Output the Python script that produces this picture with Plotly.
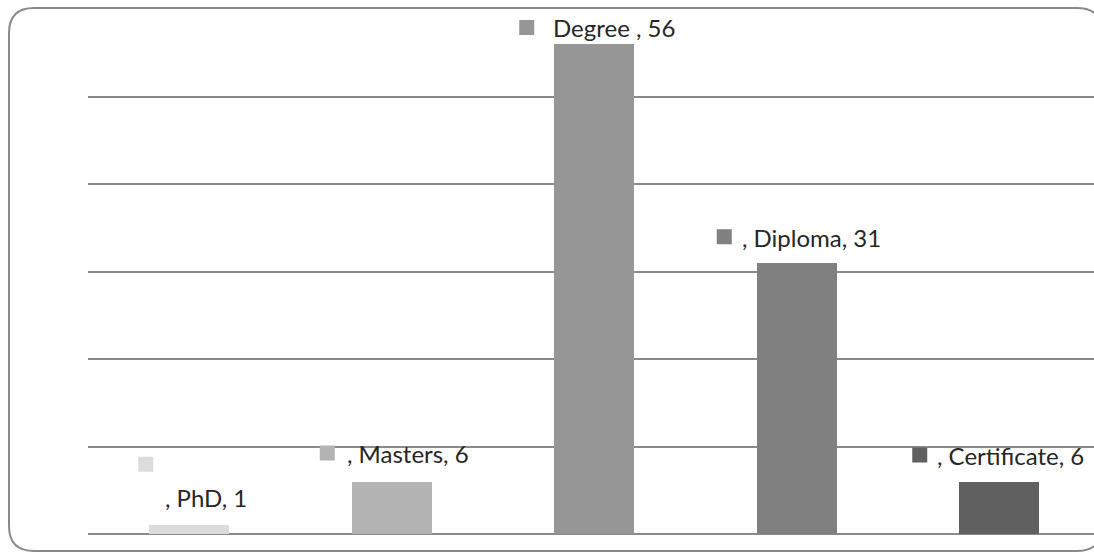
import plotly.graph_objects as go

# Highest qualification held by respondents
categories = ["PhD", "Masters", "Degree", "Diploma", "Certificate"]
counts = [1, 6, 56, 31, 6]
label_formats = [", {c}, {v}", ", {c}, {v}", "{c} , {v}", ", {c}, {v}", ", {c}, {v}"]

bar_colors = ["#dcdcdc", "#b3b3b3", "#969696", "#808080", "#606060"]
grid_color = "#8a8a8a"
text_color = "#262626"

W, H = 1094, 554
ML, MR, MT, MB = 88, 0, 9, 20
plot_w = W - ML - MR
plot_h = H - MT - MB
step_px = 202.5  # distance between category centres
x_lo = -0.5
x_hi = x_lo + plot_w / step_px

# label placement around each bar top (pixels)
text_dx = [-25, -46, -42, -56, -63]
text_dy = [28, 28, 17, 25, 26]
key_dx = [-51, -72, -75, -80, -87]
key_dy = [61, 28.5, 16.5, 26, 26.5]
KEY = 15

x_idx = list(range(len(categories)))

fig = go.Figure(
    go.Bar(
        x=x_idx,
        y=counts,
        marker=dict(color=bar_colors, line=dict(width=0)),
        width=80 / step_px,
        hoverinfo="skip",
    )
)

for i, (c, v) in enumerate(zip(categories, counts)):
    fig.add_annotation(
        x=i, y=v, xref="x", yref="y",
        text=label_formats[i].format(c=c, v=v),
        showarrow=False,
        xanchor="left", yanchor="middle",
        xshift=text_dx[i], yshift=text_dy[i],
        font=dict(family="Lato", size=24, color=text_color),
        borderpad=0,
    )
    fig.add_shape(
        type="rect",
        xref="x", yref="y",
        xsizemode="pixel", ysizemode="pixel",
        xanchor=i, yanchor=v,
        x0=key_dx[i], x1=key_dx[i] + KEY,
        y0=key_dy[i] - KEY / 2, y1=key_dy[i] + KEY / 2,
        fillcolor=bar_colors[i], line=dict(width=0),
    )


def px(xp, yp):
    return (xp - ML) / plot_w, (H - MB - yp) / plot_h


# rounded chart-area frame
L, R, T, B, r = 9, 1102, 8, 551, 25
pts = [
    ("M", [(L + r, T)]),
    ("L", [(R - r, T)]),
    ("Q", [(R, T), (R, T + r)]),
    ("L", [(R, B - r)]),
    ("Q", [(R, B), (R - r, B)]),
    ("L", [(L + r, B)]),
    ("Q", [(L, B), (L, B - r)]),
    ("L", [(L, T + r)]),
    ("Q", [(L, T), (L + r, T)]),
]
path = ""
for cmd, pp in pts:
    path += cmd + " " + " ".join("{:.5f},{:.5f}".format(*px(a, b)) for a, b in pp) + " "
path += "Z"
fig.add_shape(type="path", xref="paper", yref="paper", path=path,
              line=dict(color=grid_color, width=2), fillcolor="rgba(0,0,0,0)",
              layer="above")

fig.update_layout(
    width=W, height=H,
    margin=dict(l=ML, r=MR, t=MT, b=MB, pad=0),
    paper_bgcolor="white", plot_bgcolor="white",
    showlegend=False,
    bargap=0,
    xaxis=dict(range=[x_lo, x_hi], showgrid=False, zeroline=False,
               showticklabels=False, ticks="", showline=False, fixedrange=True),
    yaxis=dict(range=[0, 60], dtick=10, showgrid=True, gridcolor=grid_color,
               gridwidth=2, zeroline=True, zerolinecolor=grid_color, zerolinewidth=2,
               showticklabels=False, ticks="", showline=False, fixedrange=True),
)

fig.write_html("out.html", config={"displayModeBar": False})
